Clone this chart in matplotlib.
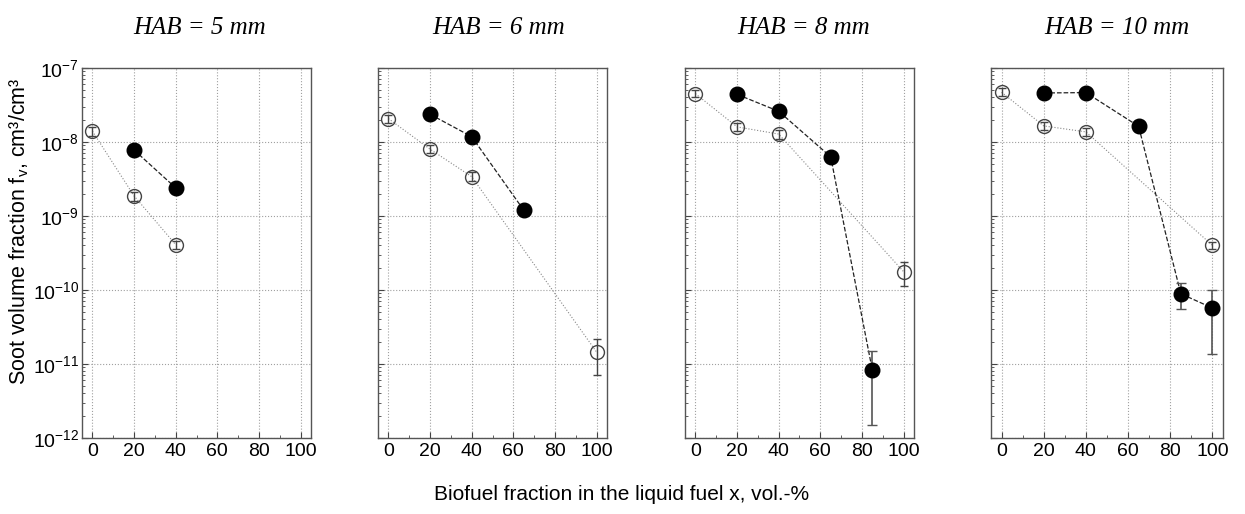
import matplotlib
matplotlib.use("Agg")
import matplotlib.pyplot as plt
import numpy as np
from matplotlib.ticker import FixedLocator, NullFormatter

titles = ["HAB = 5 mm", "HAB = 6 mm", "HAB = 8 mm", "HAB = 10 mm"]

# filled circles (dashed line)
filled_x = [[20, 40], [20, 40, 65], [20, 40, 65, 85], [20, 40, 65, 85, 100]]
filled_y = [[7.8e-9, 2.4e-9],
            [2.37e-8, 1.18e-8, 1.2e-9],
            [4.4e-8, 2.6e-8, 6.3e-9, 8.2e-12],
            [4.6e-8, 4.65e-8, 1.63e-8, 8.9e-11, 5.7e-11]]
filled_lo = [[7.8e-9, 2.4e-9],
             [2.37e-8, 1.18e-8, 1.2e-9],
             [4.4e-8, 2.6e-8, 6.3e-9, 1.5e-12],
             [4.6e-8, 4.65e-8, 1.63e-8, 5.6e-11, 1.37e-11]]
filled_hi = [[7.8e-9, 2.4e-9],
             [2.37e-8, 1.18e-8, 1.2e-9],
             [4.4e-8, 2.6e-8, 6.3e-9, 1.5e-11],
             [4.6e-8, 4.65e-8, 1.63e-8, 1.24e-10, 1.0e-10]]

# open circles (dotted line)
open_x = [[0, 20, 40], [0, 20, 40, 100], [0, 20, 40, 100], [0, 20, 40, 100]]
open_y = [[1.4e-8, 1.87e-9, 4.1e-10],
          [2.07e-8, 8.0e-9, 3.4e-9, 1.45e-11],
          [4.5e-8, 1.6e-8, 1.28e-8, 1.77e-10],
          [4.7e-8, 1.65e-8, 1.37e-8, 4.0e-10]]
open_lo = [[1.2e-8, 1.6e-9, 3.6e-10],
           [1.8e-8, 7.0e-9, 3.0e-9, 7.2e-12],
           [4.0e-8, 1.4e-8, 1.1e-8, 1.15e-10],
           [4.2e-8, 1.45e-8, 1.2e-8, 3.6e-10]]
open_hi = [[1.6e-8, 2.1e-9, 4.6e-10],
           [2.35e-8, 9.0e-9, 3.9e-9, 2.2e-11],
           [5.0e-8, 1.8e-8, 1.45e-8, 2.4e-10],
           [5.3e-8, 1.85e-8, 1.55e-8, 4.4e-10]]

x_ticks = [0, 20, 40, 60, 80, 100]
y_ticks = [1e-12, 1e-11, 1e-10, 1e-9, 1e-8, 1e-7]

W, H = 1245, 514
fig = plt.figure(figsize=(W / 100, H / 100), dpi=100)
plt.rcParams['font.family'] = ['Liberation Sans', 'DejaVu Sans']

lefts = [82, 378, 685, 991]
widths = [229, 229, 229, 232]
top, bottom = 68, 438
title_x = [200, 499, 804, 1117]

minor_y = [m * d for d in y_ticks[:-1] for m in range(2, 10)]

for i in range(4):
    ax = fig.add_axes([lefts[i] / W, 1 - bottom / H, widths[i] / W, (bottom - top) / H])
    ax.set_yscale('log')
    ax.set_ylim(1e-12, 1e-7)
    ax.set_xlim(-5, 105)
    ax.grid(True, which='major', color='#a0a0a0', linestyle=':', linewidth=0.8)
    ax.set_axisbelow(True)
    for s in ax.spines.values():
        s.set_color('#555555')
        s.set_linewidth(1.0)
    ax.set_xticks(x_ticks)
    ax.xaxis.set_minor_locator(FixedLocator([10, 30, 50, 70, 90]))
    ax.xaxis.set_minor_formatter(NullFormatter())
    ax.yaxis.set_major_locator(FixedLocator(y_ticks))
    ax.yaxis.set_minor_locator(FixedLocator(minor_y))
    ax.yaxis.set_minor_formatter(NullFormatter())
    ax.tick_params(which='both', direction='in', top=False, right=False, colors='#444444',
                   labelcolor='black', labelsize=14)
    ax.tick_params(axis='y', pad=2)
    ax.tick_params(which='major', length=4)
    ax.tick_params(which='minor', length=2.5)
    if i > 0:
        ax.yaxis.set_major_formatter(NullFormatter())

    fx = np.array(filled_x[i]); fy = np.array(filled_y[i])
    fyerr = [fy - np.array(filled_lo[i]), np.array(filled_hi[i]) - fy]
    ox = np.array(open_x[i]); oy = np.array(open_y[i])
    oyerr = [oy - np.array(open_lo[i]), np.array(open_hi[i]) - oy]

    ax.plot(ox, oy, linestyle=':', color='#888888', linewidth=0.8, zorder=2)
    ax.plot(fx, fy, linestyle='--', color='#222222', linewidth=0.9, zorder=2)
    ax.errorbar(ox, oy, yerr=oyerr, fmt='none', ecolor='#444444', elinewidth=1.0,
                capsize=3, capthick=1.0, zorder=3)
    ax.errorbar(fx, fy, yerr=fyerr, fmt='none', ecolor='#555555', elinewidth=1.2,
                capsize=3.5, capthick=1.0, zorder=3)
    ax.plot(ox, oy, linestyle='none', marker='o', markersize=10, markerfacecolor='none',
            markeredgecolor='#444444', markeredgewidth=1.0, zorder=4)
    ax.plot(fx, fy, linestyle='none', marker='o', markersize=10.5, markerfacecolor='black',
            markeredgecolor='black', zorder=5)

    fig.text(title_x[i] / W, 1 - 28 / H, titles[i], ha='center', va='center',
             fontsize=18, style='italic', family=['Liberation Serif', 'DejaVu Serif'])

fig.text(19 / W, 1 - 231 / H, r"Soot volume fraction f$_\mathregular{v}$, cm³/cm³", rotation=90,
         ha='center', va='center', fontsize=15.5)
fig.text(622 / W, 1 - 495 / H, "Biofuel fraction in the liquid fuel x, vol.-%",
         ha='center', va='center', fontsize=15)

fig.savefig("out.png", dpi=100)
